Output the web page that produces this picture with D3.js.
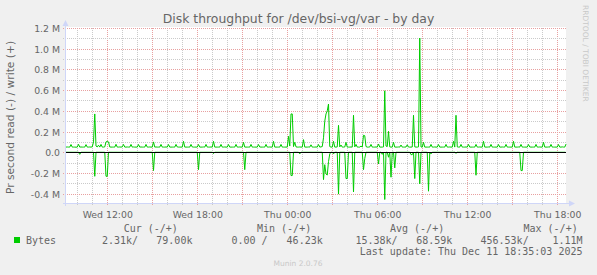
<!DOCTYPE html>
<html>
<head>
<meta charset="utf-8">
<script src="https://cdn.jsdelivr.net/npm/d3@7"></script>
<style>
  body { margin: 0; background: #f0f0f0; }
  svg { display: block; }
</style>
</head>
<body>
<svg width="597" height="275"></svg>
<script>
// 5-minute samples from Wed 09:15 to Thu 18:35
const startTime = new Date(2025, 11, 10, 9, 15);
const endTime = new Date(2025, 11, 11, 18, 35);
const stepMinutes = 5;

// write (+) in kB/s, one row = 2 hours
const writeK = [
  50, 51, 50, 50, 75, 50, 50, 50, 49, 50, 77, 50, 51, 50, 50, 50, 74, 50, 50, 51, 50, 52, 100, 370,
  60, 52, 68, 50, 76, 50, 50, 52, 100, 105, 100, 51, 50, 50, 50, 50, 77, 50, 50, 51, 50, 52, 76, 50,
  50, 51, 50, 50, 76, 50, 51, 50, 50, 50, 75, 50, 51, 50, 50, 50, 76, 50, 50, 51, 50, 50, 100, 50,
  51, 50, 50, 50, 76, 50, 50, 50, 51, 50, 75, 50, 50, 50, 50, 50, 76, 51, 50, 50, 50, 50, 106, 50,
  50, 50, 50, 50, 76, 51, 50, 50, 50, 50, 75, 50, 50, 50, 51, 50, 76, 50, 50, 50, 51, 50, 106, 50,
  50, 50, 50, 50, 76, 50, 50, 51, 50, 50, 75, 50, 50, 50, 50, 50, 76, 50, 50, 51, 50, 50, 96, 50,
  50, 50, 50, 50, 76, 50, 50, 50, 50, 50, 75, 51, 50, 50, 50, 50, 76, 50, 50, 51, 50, 50, 106, 50,
  50, 50, 50, 50, 76, 50, 50, 50, 50, 50, 154, 60, 370, 370, 55, 96, 52, 50, 50, 51, 50, 50, 122, 50,
  50, 50, 51, 50, 72, 50, 50, 50, 51, 50, 75, 50, 52, 55, 140, 300, 370, 400, 466, 55, 50, 50, 106, 50,
  50, 52, 260, 52, 70, 50, 50, 51, 96, 50, 50, 50, 51, 50, 357, 52, 76, 50, 50, 50, 60, 50, 164, 160,
  55, 50, 50, 51, 76, 50, 50, 50, 51, 50, 80, 50, 50, 50, 52, 594, 60, 55, 202, 52, 50, 50, 96, 50,
  50, 50, 51, 50, 70, 50, 50, 50, 51, 72, 50, 50, 50, 51, 357, 52, 50, 50, 52, 1103, 51, 50, 96, 50,
  50, 50, 50, 50, 76, 50, 50, 51, 50, 50, 75, 50, 50, 50, 50, 50, 76, 50, 50, 51, 50, 50, 106, 50,
  357, 52, 50, 50, 76, 50, 50, 50, 51, 50, 76, 50, 50, 50, 50, 50, 76, 50, 50, 51, 50, 50, 106, 50,
  50, 50, 51, 50, 76, 50, 50, 50, 50, 50, 75, 50, 50, 51, 50, 50, 76, 50, 50, 50, 50, 50, 106, 50,
  50, 50, 51, 50, 76, 50, 50, 50, 50, 50, 75, 51, 50, 50, 50, 50, 76, 50, 50, 51, 50, 50, 96, 50,
  50, 50, 51, 50, 76, 50, 50, 50, 50, 50, 75, 50, 50, 52, 50, 50, 79
];

// read (-) in kB/s, drawn below zero, one row = 2 hours
const readK = [
  0, 0, 0, 0, 0, 0, 0, 0, 0, 0, 0, 20, 0, 0, 0, 0, 0, 0, 0, 0, 0, 0, 0, 232,
  0, 0, 0, 0, 0, 0, 0, 0, 232, 232, 0, 0, 0, 0, 0, 0, 0, 0, 0, 0, 0, 0, 0, 0,
  0, 0, 0, 0, 0, 0, 0, 0, 0, 0, 0, 0, 0, 0, 0, 0, 0, 0, 0, 0, 0, 0, 177, 0,
  0, 0, 0, 0, 0, 0, 0, 0, 0, 0, 0, 0, 0, 0, 0, 0, 0, 0, 0, 0, 0, 0, 0, 0,
  0, 0, 0, 0, 0, 0, 0, 0, 0, 0, 168, 0, 0, 0, 0, 0, 0, 0, 0, 0, 0, 0, 13, 0,
  0, 0, 0, 0, 0, 0, 0, 0, 0, 0, 0, 0, 0, 0, 0, 0, 0, 0, 0, 0, 0, 0, 0, 168,
  0, 0, 0, 0, 0, 0, 0, 0, 0, 0, 0, 0, 0, 0, 0, 0, 0, 0, 0, 0, 0, 0, 0, 0,
  0, 0, 0, 0, 0, 0, 0, 0, 0, 0, 0, 0, 225, 225, 0, 0, 0, 0, 0, 16, 0, 0, 0, 0,
  0, 0, 0, 0, 0, 0, 0, 0, 0, 0, 0, 0, 0, 0, 264, 120, 210, 220, 90, 16, 0, 0, 16, 0,
  0, 0, 404, 0, 0, 0, 0, 0, 254, 254, 0, 0, 0, 0, 383, 0, 0, 0, 0, 0, 0, 0, 168, 60,
  0, 0, 0, 0, 0, 0, 0, 0, 0, 0, 113, 0, 0, 20, 0, 456, 0, 0, 48, 0, 241, 0, 0, 151,
  0, 0, 0, 0, 0, 0, 0, 0, 0, 0, 0, 0, 23, 23, 0, 254, 0, 0, 0, 305, 0, 0, 0, 0,
  0, 0, 376, 0, 16, 0, 0, 0, 0, 0, 0, 0, 0, 0, 0, 0, 0, 0, 0, 0, 0, 0, 0, 0,
  10, 0, 0, 0, 0, 0, 0, 0, 0, 0, 0, 0, 0, 0, 0, 0, 222, 0, 0, 0, 0, 0, 0, 0,
  0, 0, 0, 0, 0, 0, 0, 0, 0, 0, 0, 0, 0, 0, 0, 0, 0, 0, 0, 0, 0, 0, 0, 0,
  0, 0, 0, 0, 177, 177, 0, 0, 0, 0, 0, 0, 0, 0, 0, 0, 0, 0, 0, 0, 0, 0, 0, 0,
  0, 0, 0, 0, 0, 0, 0, 0, 0, 0, 0, 0, 0, 0, 0, 0, 2.31
];

const yTickValues = [-400000, -200000, 0, 200000, 400000, 600000, 800000, 1000000, 1200000];
const yTickLabels = ["-0.4 M", "-0.2 M", "0.0", "0.2 M", "0.4 M", "0.6 M", "0.8 M", "1.0 M", "1.2 M"];
const xTickTimes = [
  new Date(2025, 11, 10, 12), new Date(2025, 11, 10, 18), new Date(2025, 11, 11, 0),
  new Date(2025, 11, 11, 6), new Date(2025, 11, 11, 12), new Date(2025, 11, 11, 18)
];
const xTickLabels = ["Wed 12:00", "Wed 18:00", "Thu 00:00", "Thu 06:00", "Thu 12:00", "Thu 18:00"];

const legendHead = ["Cur (-/+)", "Min (-/+)", "Avg (-/+)", "Max (-/+)"];
const legendValues = ["2.31k/", "79.00k", "0.00 /", "46.23k", "15.38k/", "68.59k", "456.53k/", "1.11M"];

const svg = d3.select("svg");
const plotLeft = 66, plotRight = 566, plotTop = 28, plotBottom = 203;
const green = "#00cc00";

const x = d3.scaleTime().domain([startTime, endTime]).range([plotLeft, plotRight]);
const y = d3.scaleLinear().domain([-490000, 1200000]).range([plotBottom, plotTop]);

const writeData = writeK.map((v, i) => ({ t: new Date(+startTime + i * stepMinutes * 60000), v: v * 1000 }));
const readData = readK.map((v, i) => ({ t: new Date(+startTime + i * stepMinutes * 60000), v: -v * 1000 }));

// canvas
svg.append("rect").attr("width", 597).attr("height", 275).attr("fill", "#f0f0f0");
svg.append("rect")
  .attr("x", plotLeft).attr("y", plotTop - 1)
  .attr("width", plotRight - plotLeft).attr("height", plotBottom - plotTop + 1)
  .attr("fill", "#fff");

// grid
const grid = svg.append("g").attr("shape-rendering", "crispEdges");
const hours = d3.timeHour.range(d3.timeHour.ceil(startTime), endTime);
grid.selectAll("line.v")
  .data(hours)
  .enter().append("line")
  .attr("x1", d => Math.round(x(d)) + 0.5)
  .attr("x2", d => Math.round(x(d)) + 0.5)
  .attr("y1", plotTop)
  .attr("y2", d => d.getHours() % 3 === 0 ? plotBottom + 3 : plotBottom + 2)
  .attr("stroke", d => d.getHours() % 3 === 0 ? "#e8a0a0" : "#cacaca")
  .attr("stroke-dasharray", "1,1");

const yMinor = d3.range(-400000, 1200001, 100000);
grid.selectAll("line.h")
  .data(yMinor)
  .enter().append("line")
  .attr("x1", plotLeft - 3)
  .attr("x2", plotRight)
  .attr("y1", d => Math.round(y(d)) + 0.5)
  .attr("y2", d => Math.round(y(d)) + 0.5)
  .attr("stroke", d => Math.round(d / 100000) % 2 === 0 ? "#e8a0a0" : "#cacaca")
  .attr("stroke-dasharray", "1,1");

// data lines
const line = d3.line().x(d => x(d.t)).y(d => y(d.v));
svg.append("path").datum(writeData)
  .attr("d", line).attr("fill", "none").attr("stroke", green).attr("stroke-width", 1);
svg.append("path").datum(readData)
  .attr("d", line).attr("fill", "none").attr("stroke", green).attr("stroke-width", 1);

// zero line
svg.append("line")
  .attr("x1", plotLeft).attr("x2", plotRight)
  .attr("y1", Math.round(y(0)) + 0.5).attr("y2", Math.round(y(0)) + 0.5)
  .attr("stroke", "#000").attr("shape-rendering", "crispEdges");

// axes with arrows
const axisColor = "#cfd6f8";
svg.append("line")
  .attr("x1", plotLeft - 0.5).attr("x2", plotLeft - 0.5).attr("y1", plotBottom + 3).attr("y2", 24)
  .attr("stroke", axisColor).attr("shape-rendering", "crispEdges");
svg.append("line")
  .attr("x1", plotLeft - 3).attr("x2", 571).attr("y1", plotBottom + 0.5).attr("y2", plotBottom + 0.5)
  .attr("stroke", axisColor).attr("shape-rendering", "crispEdges");
svg.append("path").attr("d", "M65.5,20L62.5,26L68.5,26Z").attr("fill", axisColor);
svg.append("path").attr("d", "M575,203.5L569,200.5L569,206.5Z").attr("fill", axisColor);

// tick labels
const yAxis = svg.append("g")
  .attr("transform", `translate(${plotLeft},0)`)
  .call(d3.axisLeft(y).tickValues(yTickValues).tickFormat((d, i) => yTickLabels[i]).tickSize(0).tickPadding(6));
yAxis.select(".domain").remove();
yAxis.selectAll("text")
  .attr("dy", "0.37em")
  .attr("fill", "#666")
  .style("font-family", "DejaVu Sans")
  .style("font-size", "9.33px");

const xAxis = svg.append("g")
  .attr("transform", `translate(0,${plotBottom})`)
  .call(d3.axisBottom(x).tickValues(xTickTimes).tickFormat((d, i) => xTickLabels[i]).tickSize(0).tickPadding(8));
xAxis.select(".domain").remove();
xAxis.selectAll("text")
  .attr("fill", "#666")
  .style("font-family", "DejaVu Sans")
  .style("font-size", "9.33px");

// title and side texts
svg.append("text")
  .attr("x", 298.5).attr("y", 23)
  .attr("text-anchor", "middle")
  .attr("fill", "#666")
  .style("font-family", "DejaVu Sans").style("font-size", "12.4px")
  .text("Disk throughput for /dev/bsi-vg/var - by day");

svg.append("text")
  .attr("transform", "translate(13.5,117.5) rotate(-90)")
  .attr("text-anchor", "middle")
  .attr("fill", "#666")
  .style("font-family", "DejaVu Sans").style("font-size", "10.7px")
  .text("Pr second read (-) / write (+)");

svg.append("text")
  .attr("transform", "translate(583,5) rotate(90)")
  .attr("fill", "#c8c8c8")
  .style("font-family", "DejaVu Sans").style("font-size", "7.5px")
  .text("RRDTOOL / TOBI OETIKER");

// legend
const legend = svg.append("g").attr("fill", "#666")
  .style("font-family", "DejaVu Sans Mono").style("font-size", "10px");

const headX = [123.7, 257, 390, 523.5];
legend.selectAll("text.head")
  .data(legendHead)
  .enter().append("text")
  .attr("x", (d, i) => headX[i]).attr("y", 231.5)
  .text(d => d);

legend.append("rect")
  .attr("x", 14).attr("y", 237).attr("width", 6).attr("height", 6)
  .attr("fill", green);
legend.append("text").attr("x", 26).attr("y", 243.5).text("Bytes");

const valueX = [102, 156.3, 231.5, 286.6, 355.5, 416.2, 480.5, 552.4];
legend.selectAll("text.val")
  .data(legendValues)
  .enter().append("text")
  .attr("x", (d, i) => valueX[i]).attr("y", 243.5)
  .text(d => d);

legend.append("text")
  .attr("x", 582.5).attr("y", 255)
  .attr("text-anchor", "end")
  .text("Last update: Thu Dec 11 18:35:03 2025");

svg.append("text")
  .attr("x", 298).attr("y", 266)
  .attr("text-anchor", "middle")
  .attr("fill", "#c8c8c8")
  .style("font-family", "DejaVu Sans").style("font-size", "7.5px")
  .text("Munin 2.0.76");
</script>
</body>
</html>
